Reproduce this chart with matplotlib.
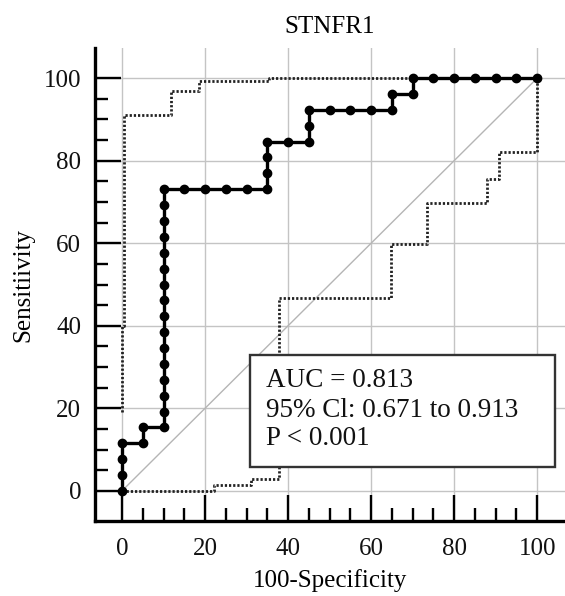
import matplotlib
matplotlib.use("Agg")
import matplotlib.pyplot as plt
from matplotlib.patches import Rectangle
from matplotlib.ticker import FixedLocator

plt.rcParams['font.family'] = ['Liberation Serif', 'DejaVu Serif']

# ROC curve points (100-Specificity, Sensitivity)
roc_fpr = [0, 0, 0, 0, 5, 5,
           10, 10, 10, 10, 10, 10, 10, 10, 10, 10, 10, 10, 10, 10, 10, 10,
           15, 20, 25, 30,
           35, 35, 35, 35,
           40, 45, 45, 45,
           50, 55, 60, 65, 65,
           70, 70, 75, 80, 85, 90, 95, 100]
roc_tpr = [0, 3.85, 7.69, 11.54, 11.54, 15.38,
           15.38, 19.23, 23.08, 26.92, 30.77, 34.62, 38.46, 42.31, 46.15, 50.0,
           53.85, 57.69, 61.54, 65.38, 69.23, 73.08,
           73.08, 73.08, 73.08, 73.08,
           73.08, 76.92, 80.77, 84.62,
           84.62, 84.62, 88.46, 92.31,
           92.31, 92.31, 92.31, 92.31, 96.15,
           96.15, 100, 100, 100, 100, 100, 100, 100]

# Upper confidence bound
ci_hi_x = [0, 0, 0.5, 0.5, 11.7, 11.7, 18.6, 18.6, 35.3, 35.3, 100]
ci_hi_y = [19, 40, 40, 91, 91, 97, 97, 99.4, 99.4, 100, 100]

# Lower confidence bound
ci_lo_x = [0, 22.2, 22.2, 31.1, 31.1, 37.9, 37.9, 64.8, 64.8, 73.4, 73.4, 88, 88, 90.9, 90.9, 100, 100]
ci_lo_y = [0, 0, 1.4, 1.4, 2.8, 2.8, 46.7, 46.7, 59.8, 59.8, 69.7, 69.7, 75.5, 75.5, 82.2, 82.2, 100]

x_ticks = [0, 20, 40, 60, 80, 100]
y_ticks = [0, 20, 40, 60, 80, 100]
minor_ticks = [5, 10, 15, 25, 30, 35, 45, 50, 55, 65, 70, 75, 85, 90, 95]

title = "STNFR1"
xlabel = "100-Specificity"
ylabel = "Sensitiivity"
stats_lines = ["AUC = 0.813", "95% Cl: 0.671 to 0.913", "P < 0.001"]

W, H = 565, 596
fig = plt.figure(figsize=(W / 100, H / 100), dpi=100)
ax = fig.add_axes([95 / W, 75 / H, 470 / W, 473 / H])

ax.set_xlim(-6.5, 106.7)
ax.set_ylim(-7.3, 107.3)

ax.xaxis.set_major_locator(FixedLocator(x_ticks))
ax.yaxis.set_major_locator(FixedLocator(y_ticks))
ax.xaxis.set_minor_locator(FixedLocator(minor_ticks))
ax.yaxis.set_minor_locator(FixedLocator(minor_ticks))

ax.grid(True, which='major', color='#c4c4c4', linewidth=1.0, zorder=0)
ax.set_axisbelow(True)

for s in ['top', 'right']:
    ax.spines[s].set_visible(False)
for s in ['left', 'bottom']:
    ax.spines[s].set_linewidth(2.4)
    ax.spines[s].set_color('black')

ax.tick_params(which='major', direction='in', length=19, width=1.7, color='black',
               labelsize=18, pad=10, labelcolor='#111111')
ax.tick_params(which='minor', direction='in', length=9.5, width=1.7, color='black')
ax.tick_params(axis='x', pad=12)

# diagonal reference
ax.plot([0, 100], [0, 100], color='#b5b5b5', lw=1.0, zorder=1)

# confidence bounds
ax.plot(ci_hi_x, ci_hi_y, color='#222222', lw=2.0, linestyle=(0, (0.8, 0.7)), zorder=2)
ax.plot(ci_lo_x, ci_lo_y, color='#222222', lw=2.0, linestyle=(0, (0.8, 0.7)), zorder=2)

# ROC curve
ax.plot(roc_fpr, roc_tpr, color='black', lw=2.4, marker='o', markersize=6,
        markerfacecolor='black', markeredgecolor='black', zorder=3)

# stats box
box = Rectangle((30.8, 5.8), 73.5, 27.1, facecolor='white', edgecolor='#333333',
                lw=1.7, zorder=4)
ax.add_patch(box)
baselines = [25.2, 18.0, 11.1]
for txt, yb in zip(stats_lines, baselines):
    ax.text(34.6, yb, txt, fontsize=19.5, va='baseline', ha='left', zorder=5,
            color='#111111')

ax.set_title(title, fontsize=18, pad=11)
ax.set_xlabel(xlabel, fontsize=18)
ax.set_ylabel(ylabel, fontsize=18)
ax.xaxis.set_label_coords(0.5, -0.102)
ax.yaxis.set_label_coords(-0.13, 0.5)

fig.savefig("out.png", dpi=100)
